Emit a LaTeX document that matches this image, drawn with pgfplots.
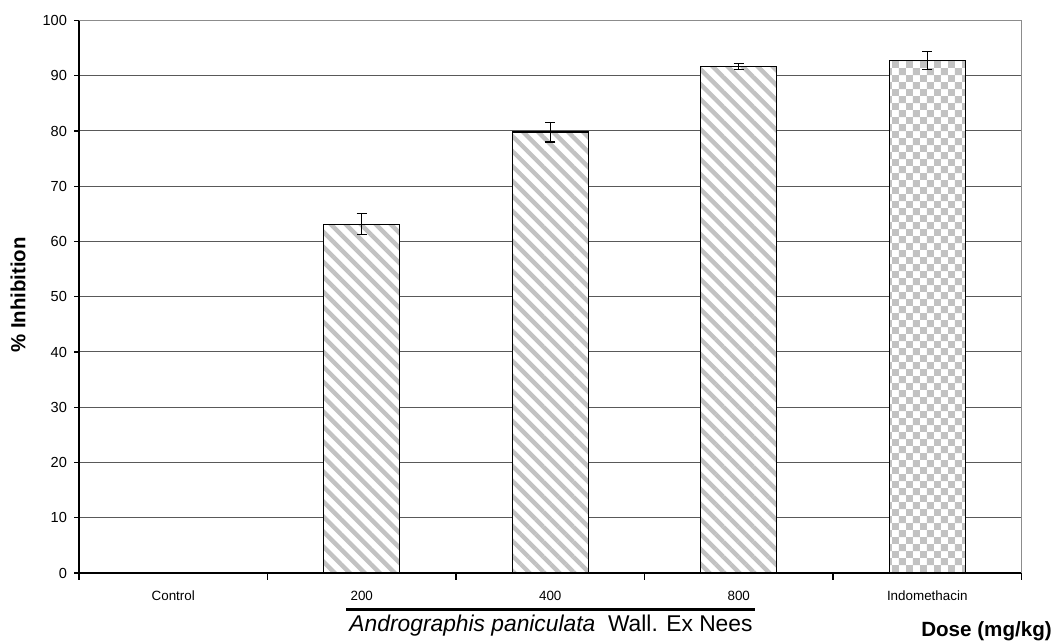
\documentclass[border=0pt]{standalone}
\usepackage{fontspec}
\setmainfont{Liberation Sans}
\usepackage{pgfplots}
\pgfplotsset{compat=1.18}
\usetikzlibrary{patterns,patterns.meta}
\pgfdeclarepatternformonly{mychecker}{\pgfpointorigin}{\pgfqpoint{7.2pt}{7.2pt}}{\pgfqpoint{7.2pt}{7.2pt}}{%
  \pgfpathrectangle{\pgfpointorigin}{\pgfqpoint{3.6pt}{3.6pt}}%
  \pgfpathrectangle{\pgfqpoint{3.6pt}{3.6pt}}{\pgfqpoint{3.6pt}{3.6pt}}%
  \pgfusepath{fill}}
\begin{document}
\begin{tikzpicture}
\useasboundingbox (-39.5pt,-35pt) rectangle (488.5pt,286.5pt);
\begin{axis}[
  at={(0,0)}, anchor=south west,
  scale only axis,
  width=471.25pt, height=276.25pt,
  xmin=-0.5, xmax=4.5, ymin=0, ymax=100,
  axis x line*=bottom, axis y line*=left,
  axis line style={black, line width=0.6pt},
  ytick={0,10,...,100},
  xtick={0,1,2,3,4},
  xticklabels={Control,200,400,800,Indomethacin},
  minor xtick={-0.5,0.5,1.5,2.5,3.5,4.5},
  major x tick style={draw=none},
  tick style={black, line width=0.6pt},
  tick align=outside,
  major tick length=2.5pt, minor tick length=3.5pt,
  ymajorgrids,
  major grid style={black!65, line width=0.5pt},
  /pgf/number format/assume math mode=true,
  yticklabel style={font=\fontsize{7.3}{8}\selectfont},
  xticklabel style={font=\fontsize{6.7}{8}\selectfont, yshift=-3pt},
  ybar, bar width=38pt, bar shift=0pt,
  clip=false,
]
\draw[black!45, line width=0.6pt] (rel axis cs:0,1) -- (rel axis cs:1,1) -- (rel axis cs:1,0);
\addplot[draw=black, line width=0.7pt, fill=white,
  postaction={pattern={Lines[angle=-45, distance=5.3pt, line width=2.2pt]}, pattern color=black!24},
  error bars/.cd, y dir=both, y explicit,
  error bar style={black, line width=0.6pt},
  error mark options={rotate=90, mark size=2.6pt, black, line width=0.6pt}]
  coordinates {(1,63.1) +- (0,1.9) (2,79.8) +- (0,1.8) (3,91.7) +- (0,0.5)};
\addplot[draw=black, line width=0.7pt, fill=white,
  postaction={pattern=mychecker, pattern color=black!24},
  error bars/.cd, y dir=both, y explicit,
  error bar style={black, line width=0.6pt},
  error mark options={rotate=90, mark size=2.6pt, black, line width=0.6pt}]
  coordinates {(4,92.8) +- (0,1.6)};
\end{axis}
\node[rotate=90, font=\bfseries\fontsize{10.2}{12}\selectfont] at (-30.5pt,139pt) {\% Inhibition};
\draw[line width=1.5pt] (133.5pt,-18pt) -- (338pt,-18pt);
\node[anchor=base, font=\fontsize{11.4}{13}\selectfont, inner sep=0pt] at (236pt,-29.25pt) {\textit{Andrographis paniculata}\ \ Wall. Ex Nees};
\node[anchor=base, font=\bfseries\fontsize{10.3}{12}\selectfont, inner sep=0pt] at (453.75pt,-31.75pt) {Dose (mg/kg)};
\end{tikzpicture}
\end{document}
